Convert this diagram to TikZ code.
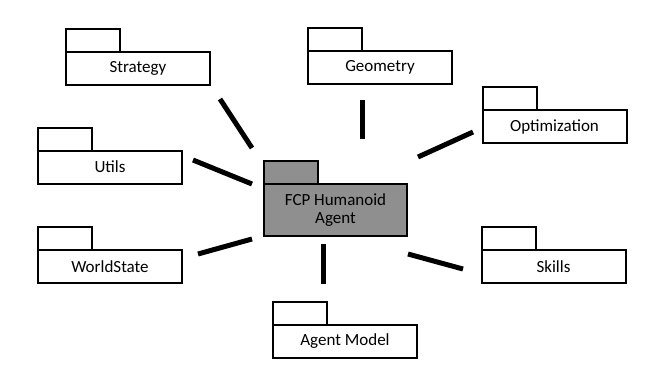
\documentclass[tikz,border=0pt]{standalone}
\usepackage{fontspec}
\setmainfont{Carlito}
\usepackage{xcolor}
\usepackage{tikz}
\usetikzlibrary{positioning}
\definecolor{agentgray}{RGB}{143,143,143}

\begin{document}
\begin{tikzpicture}[x=1pt, y=-1pt,
    pkg/.style={rectangle, draw, line width=2pt, fill=white, minimum width=144pt, minimum height=33pt, inner sep=0pt, outer sep=0pt, font=\fontsize{17}{18}\selectfont},
    tab/.style={rectangle, draw, line width=2pt, fill=white, minimum width=54pt, minimum height=23pt, inner sep=0pt, outer sep=0pt},
    link/.style={line width=5pt}]
\useasboundingbox (0,0) rectangle (661,376);

\node[pkg] (S) at (138,68.5) {Strategy};
\node[pkg] (G) at (380,67.5) {Geometry};
\node[pkg] (U) at (110,167) {Utils};
\node[pkg] (O) at (554.5,126.5) {Optimization};
\node[pkg] (W) at (110,266.5) {WorldState};
\node[pkg] (K) at (553.5,266.5) {Skills};
\node[pkg] (M) at (345,341.5) {Agent Model};
\node[pkg, fill=agentgray, minimum width=143pt, minimum height=52pt, align=center] (A) at (335.5,210) {FCP Humanoid\\Agent};

% package tabs
\foreach \p in {S,G,U,O,W,K,M}
  \node[tab, above right=0pt and 0pt of \p.north west] (\p tab) {};
\node[tab, fill=agentgray, above right=0pt and 0pt of A.north west] (Atab) {};

% link ends
\coordinate (s1) at (220,99);   \coordinate (s2) at (252,148);
\coordinate (g1) at (362,100);  \coordinate (g2) at (362,139);
\coordinate (u1) at (193,160);  \coordinate (u2) at (252,184);
\coordinate (o1) at (473,132);  \coordinate (o2) at (418,157);
\coordinate (w1) at (198,254);  \coordinate (w2) at (252,239);
\coordinate (k1) at (463,269);  \coordinate (k2) at (408,254);
\coordinate (m1) at (323,284);  \coordinate (m2) at (323,244);

\foreach \a/\b in {s1/s2,g1/g2,u1/u2,o1/o2,w1/w2,k1/k2,m1/m2}
  \draw[link] (\a) -- (\b);
\end{tikzpicture}
\end{document}
